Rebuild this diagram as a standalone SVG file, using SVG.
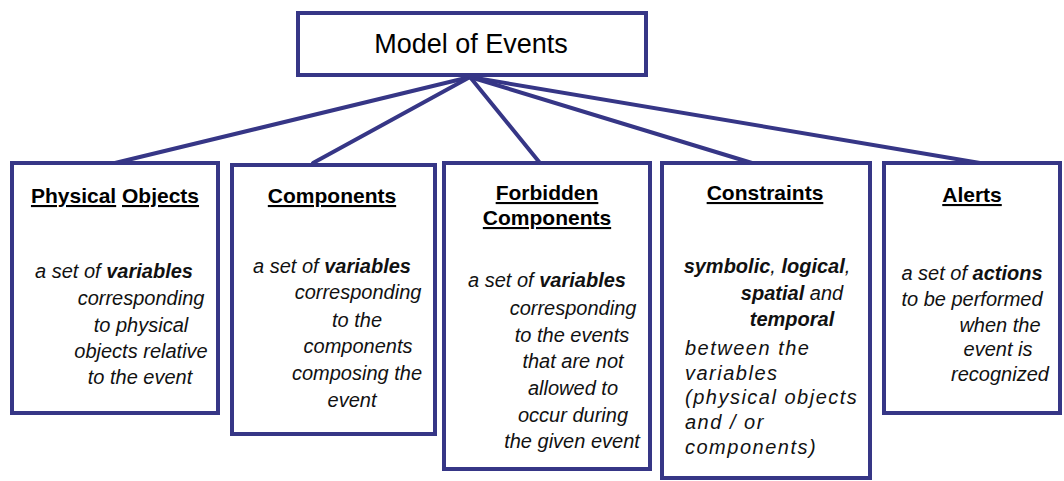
<svg xmlns="http://www.w3.org/2000/svg" width="1064" height="481" viewBox="0 0 1064 481">
<style>
.box{fill:#fff;stroke:#363686;stroke-width:4}
.conn{stroke:#363686;stroke-width:4;fill:none;stroke-linecap:round}
.title{font-family:"Liberation Sans",Arial,sans-serif;font-weight:bold;font-size:21px;fill:#000;text-anchor:middle}
.u{text-decoration:underline}
.body{font-family:"Liberation Sans",Arial,sans-serif;font-style:italic;font-size:20px;fill:#111;text-anchor:middle}
.left{text-anchor:start;letter-spacing:1.5px}
.b{font-weight:bold}
.main{font-family:"Liberation Sans",Arial,sans-serif;font-size:27px;fill:#000;text-anchor:middle}
</style>
<rect width="1064" height="481" fill="#fff"/>
<g id="connectors">
<line class="conn" x1="470" y1="77" x2="115" y2="163"/>
<line class="conn" x1="470" y1="77" x2="313" y2="163"/>
<line class="conn" x1="470" y1="77" x2="540" y2="163"/>
<line class="conn" x1="470" y1="77" x2="752" y2="163"/>
<line class="conn" x1="470" y1="77" x2="980" y2="163"/>
</g>
<g id="model">
<rect class="box" x="298" y="13" width="348" height="62"/>
<text class="main" x="471" y="53">Model of Events</text>
</g>
<g id="physical-objects">
<rect class="box" x="12" y="163" width="206" height="250"/>
<text class="title" x="115" y="203"><tspan class="u">Physical</tspan> <tspan class="u">Objects</tspan></text>
<text class="body" x="114" y="278">a set of <tspan class="b">variables</tspan></text>
<text class="body" x="141" y="305">corresponding</text>
<text class="body" x="141" y="332">to physical</text>
<text class="body" x="141" y="358">objects relative</text>
<text class="body" x="140" y="384">to the event</text>
</g>
<g id="components">
<rect class="box" x="232" y="165" width="203" height="269"/>
<text class="title u" x="332" y="203">Components</text>
<text class="body" x="332" y="273">a set of <tspan class="b">variables</tspan></text>
<text class="body" x="358" y="299">corresponding</text>
<text class="body" x="357" y="327">to the</text>
<text class="body" x="358" y="353">components</text>
<text class="body" x="357" y="380">composing the</text>
<text class="body" x="352" y="407">event</text>
</g>
<g id="forbidden-components">
<rect class="box" x="444" y="163" width="206" height="306"/>
<text class="title u" x="547" y="200">Forbidden</text>
<text class="title u" x="547" y="225">Components</text>
<text class="body" x="547" y="287">a set of <tspan class="b">variables</tspan></text>
<text class="body" x="573" y="315">corresponding</text>
<text class="body" x="572" y="342">to the events</text>
<text class="body" x="573" y="368">that are not</text>
<text class="body" x="573" y="395">allowed to</text>
<text class="body" x="573" y="422">occur during</text>
<text class="body" x="572" y="448">the given event</text>
</g>
<g id="constraints">
<rect class="box" x="662" y="163" width="208" height="315"/>
<text class="title u" x="765" y="200">Constraints</text>
<text class="body" x="767" y="273"><tspan class="b">symbolic</tspan>, <tspan class="b">logical</tspan>,</text>
<text class="body" x="792" y="300"><tspan class="b">spatial</tspan> and</text>
<text class="body b" x="792" y="326">temporal</text>
<text class="body left" x="685" y="355">between the</text>
<text class="body left" x="685" y="380">variables</text>
<text class="body left" x="685" y="404">(physical objects</text>
<text class="body left" x="685" y="429">and / or</text>
<text class="body left" x="685" y="454">components)</text>
</g>
<g id="alerts">
<rect class="box" x="884" y="163" width="176" height="250"/>
<text class="title u" x="972" y="202">Alerts</text>
<text class="body" x="972" y="280">a set of <tspan class="b">actions</tspan></text>
<text class="body" x="972" y="306">to be performed</text>
<text class="body" x="1000" y="332">when the</text>
<text class="body" x="998" y="356">event is</text>
<text class="body" x="1000" y="381">recognized</text>
</g>
</svg>
